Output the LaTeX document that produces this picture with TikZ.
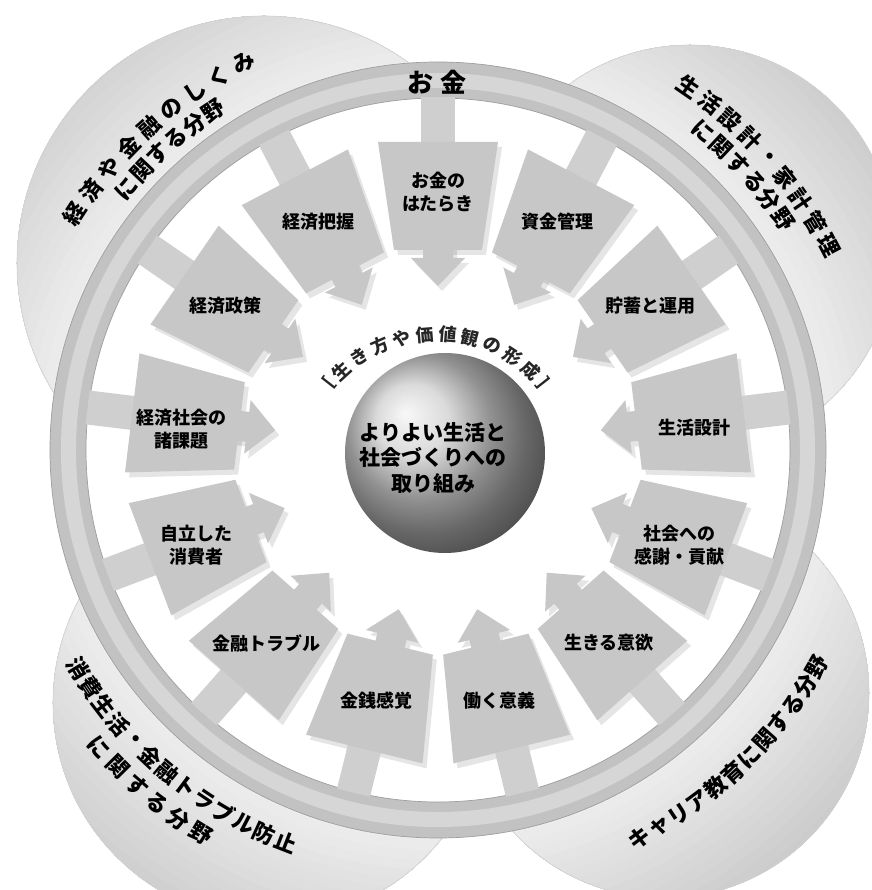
\documentclass[tikz,border=0pt]{standalone}
\usepackage{fontspec}
\usetikzlibrary{calc}
\newfontfamily\jp{Noto Sans CJK JP}
\definecolor{ringc}{gray}{0.76}
\definecolor{ringlight}{gray}{0.84}
\definecolor{ringedge}{gray}{0.62}
\definecolor{cardc}{gray}{0.78}
\definecolor{spokec}{gray}{0.81}
\tikzset{
  outertext/.style={font=\jp\bfseries\fontsize{22}{22}\selectfont, inner sep=0pt, text=black},
  arctxt/.style={font=\jp\bfseries\fontsize{18}{18}\selectfont, inner sep=0pt, text=black!85},
  itemtext/.style={font=\jp\bfseries\fontsize{18}{23}\selectfont, align=center, inner sep=0pt, text=black},
  centertext/.style={font=\jp\bfseries\fontsize{21}{25.5}\selectfont, align=center, inner sep=0pt, text=black},
  moneytext/.style={font=\jp\bfseries\fontsize{26}{26}\selectfont, inner sep=0pt, text=black},
  cardfill/.style={fill=cardc},
  spokefill/.style={fill=spokec},
  shadowfill/.style={fill=black, opacity=0.10},
  bubline/.style={draw=gray!35, line width=0.6},
}
% #1 style, #2 name prefix, #3 radius, #4 start angle, #5 step, #6 rotation offset, #7 list
\newcommand\arcchars[7]{%
  \foreach \ch [count=\i from 0] in {#7} {%
    \pgfmathsetmacro\ang{#4+\i*(#5)}%
    \node[#1, rotate={\ang+(#6)}] (#2\i) at (\ang:#3) {\ch};%
  }}
\begin{document}
\begin{tikzpicture}[x=1pt,y=1pt]
\useasboundingbox (-438,-440) rectangle (433,450);
\fill[white] (-438,-440) rectangle (433,450);
% background bubbles (stepped gradient, darker away from the ring)
\begin{scope}
  \clip (-174,187) circle (247) (252,200) circle (205) (-167,-253) circle (218) (226,-243) circle (205);
  \foreach \r in {620,610,...,380} {
    \pgfmathsetmacro\g{max(0.79, 0.93-(\r-390)*0.13/150)}
    \definecolor{bubtmp}{gray}{\g}
    \fill[bubtmp] (0,0) circle (\r);
  }
\end{scope}
\path[bubline] (-174,187) circle (247) (252,200) circle (205) (-167,-253) circle (218) (226,-243) circle (205);
% ring
\fill[white] (0,0) circle (388);
\fill[ringc, even odd rule] (0,0) circle (388) (0,0) circle (352);
\fill[ringlight, even odd rule] (0,0) circle (377) (0,0) circle (362);
\draw[ringedge, line width=0.7] (0,0) circle (388) (0,0) circle (352);
% items
\foreach \k/\lab/\dy in {0/{お金の\\はたらき}/0, 1/{資金管理}/0, 2/{貯蓄と運用}/-2, 3/{生活設計}/-9, 4/{社会への\\感謝・貢献}/-4, 5/{生きる意欲}/0, 6/{働く意義}/0, 7/{金銭感覚}/0, 8/{金融トラブル}/0, 9/{自立した\\消費者}/-4, 10/{経済社会の\\諸課題}/-10, 11/{経済政策}/-2, 12/{経済把握}/0} {
  \pgfmathsetmacro\th{90-\k*360/13}
  \begin{scope}[shift={(4,-5)}, rotate={\th-90}]
    \fill[shadowfill] (-60,308) -- (60,308) -- (44,200) -- (-44,200) -- cycle;
    \fill[shadowfill] (-15,210) -- (15,210) -- (15,192) -- (27,192) -- (0,164) -- (-27,192) -- (-15,192) -- cycle;
  \end{scope}
  \begin{scope}[rotate={\th-90}]
    \fill[spokefill] (-17,300) rectangle (17,353);
    \fill[cardfill] (-15,210) -- (15,210) -- (15,192) -- (27,192) -- (0,164) -- (-27,192) -- (-15,192) -- cycle;
    \fill[cardfill] (-60,308) -- (60,308) -- (44,200) -- (-44,200) -- cycle;
  \end{scope}
  \node[itemtext] (item\k) at ($(\th:258)+(0,\dy)$) {\lab};
}
% top label on ring
\node[moneytext] (money) at (-1,368) {お\hspace{7pt}金};
% outer labels
\arcchars{outertext}{tla}{433}{147}{-3.8}{-90}{経,済,や,金,融,の,し,く,み}
\arcchars{outertext}{tlb}{407}{140}{-3.3}{-90}{に,関,す,る,分,野}
\arcchars{outertext}{tra}{441}{55.4}{-3.47}{-90}{生,活,設,計,・,家,計,管,理}
\arcchars{outertext}{trb}{415}{50.2}{-3.28}{-90}{に,関,す,る,分,野}
\arcchars{outertext}{bla}{421}{-148.8}{3.13}{90}{消,費,生,活,・,金,融,ト,ラ,ブ,ル,防,止}
\arcchars{outertext}{blb}{451}{-138.7}{3.4}{90}{に,関,す,る,分,野}
\arcchars{outertext}{bra}{437}{-62.5}{2.98}{90}{キ,ャ,リ,ア,教,育,に,関,す,る,分,野}
% centre sphere
\node[circle, minimum size=200pt, inner sep=0pt, shading=ball, ball color=gray!38] (sphere) at (7,-3) {};
\node[centertext] (goal) at (-5,-8) {よりよい生活と\\社会づくりへの\\取り組み};
% arc text above sphere
\begin{scope}[shift={(-2,-24)}]
  \arcchars{arctxt}{arc}{140}{141.9}{-9.44}{-90}{［,生,き,方,や,価,値,観,の,形,成,］}
\end{scope}
\end{tikzpicture}
\end{document}
